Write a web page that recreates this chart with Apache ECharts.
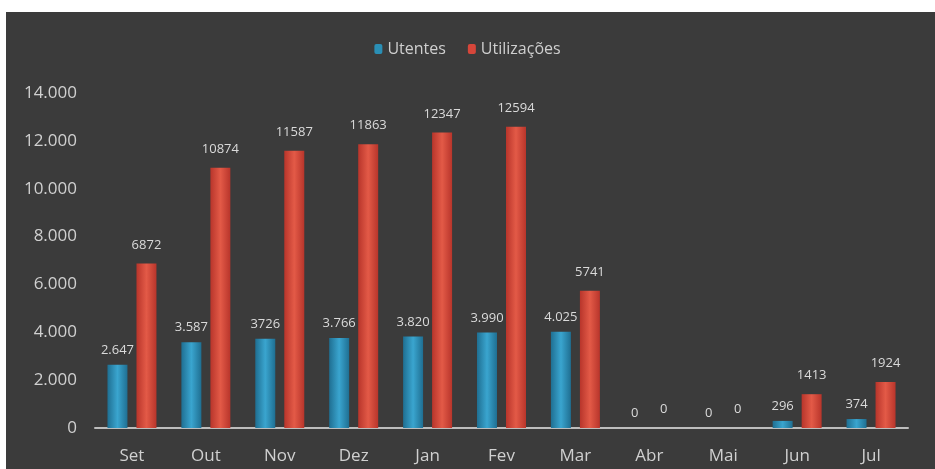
<!DOCTYPE html>
<html><head><meta charset="utf-8">
<script src="https://cdn.jsdelivr.net/npm/echarts@6/dist/echarts.min.js"></script>
<style>
html,body{margin:0;padding:0;background:#fff;}
#bg{position:absolute;left:6px;top:12px;width:929px;height:457px;background:#3b3b3b;}
#c{position:absolute;left:0;top:0;width:935px;height:469px;}
</style></head><body>
<div id="bg"></div><div id="c"></div>
<script>
const categories = ['Set','Out','Nov','Dez','Jan','Fev','Mar','Abr','Mai','Jun','Jul'];
const utentes = [2647,3587,3726,3766,3820,3990,4025,0,0,296,374];
const utilizacoes = [6872,10874,11587,11863,12347,12594,5741,0,0,1413,1924];
const utentesLabels = ['2.647','3.587','3726','3.766','3.820','3.990','4.025','0','0','296','374'];
const yTicks = [0,2000,4000,6000,8000,10000,12000,14000];

const chart = echarts.init(document.getElementById('c'));
function grad(edge, mid){
  return new echarts.graphic.LinearGradient(0,0,1,0,[
    {offset:0,color:edge},{offset:0.5,color:mid},{offset:1,color:edge}]);
}
const font = 'Open Sans, Lato, sans-serif';
chart.setOption({
  backgroundColor:'transparent',
  animation:false,
  textStyle:{fontFamily:font},
  legend:{
    top:36, left:'center', itemWidth:8, itemHeight:10, itemGap:22,
    textStyle:{color:'#cfcfcf', fontSize:16, fontFamily:font},
    data:[{name:'Utentes',itemStyle:{color:'#2a8fb5'}},{name:'Utilizações',itemStyle:{color:'#d6463a'}}]
  },
  grid:{left:95,right:27,top:93,bottom:41},
  xAxis:{
    type:'category', data:categories,
    axisLine:{lineStyle:{color:'#bdbdbd',width:2}},
    axisTick:{show:false},
    axisLabel:{color:'#d0d0d0',fontSize:17,margin:20,fontFamily:font}
  },
  yAxis:{
    type:'value', min:yTicks[0], max:yTicks[yTicks.length-1], interval:2000,
    splitLine:{show:false}, axisLine:{show:false}, axisTick:{show:false},
    axisLabel:{color:'#d0d0d0',fontSize:17,margin:18,fontFamily:font,
      formatter:v=>v===0?'0':v.toLocaleString('de-DE')}
  },
  series:[
    {name:'Utentes', type:'bar', data:utentes, barWidth:20, barGap:'45%',
     itemStyle:{color:grad('#1f6f92','#3aa5cf')},
     label:{show:true,position:'top',color:'#dadada',fontSize:13,distance:8,
       formatter:p=>utentesLabels[p.dataIndex]}},
    {name:'Utilizações', type:'bar', data:utilizacoes, barWidth:20,
     itemStyle:{color:grad('#b8352b','#e35a47')},
     label:{show:true,position:'top',color:'#dadada',fontSize:13,distance:12}}
  ]
});
</script></body></html>
